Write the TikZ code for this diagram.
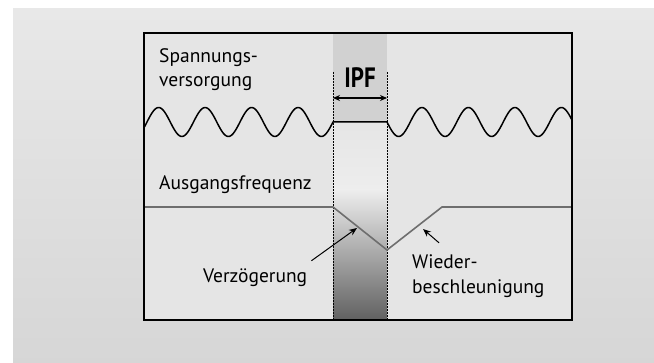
\documentclass[tikz,border=0pt]{standalone}
\usepackage{fontspec}
\setmainfont{PT Sans}
\usetikzlibrary{arrows.meta}
\definecolor{bgtop}{gray}{0.91}
\definecolor{bgbot}{gray}{0.84}
\definecolor{boxfill}{gray}{0.9}
\definecolor{colupper}{gray}{0.82}
\definecolor{collight}{gray}{0.93}
\definecolor{coldark}{gray}{0.38}
\definecolor{freqgray}{gray}{0.43}
\begin{document}
\begin{tikzpicture}[x=1pt, y=-1pt,
    lab/.style={font=\fontsize{19.5}{24.5}\selectfont, inner sep=0pt, anchor=base west, align=left},
    pfeil/.style={-{Stealth[length=8pt,width=6.5pt]}, line width=1pt},
    welle/.style={line width=1.5pt, line join=round}]
    \useasboundingbox (0,0) rectangle (654,363);
    \shade[top color=bgtop, bottom color=bgbot] (13,9) rectangle (654,363);
    \fill[boxfill] (144,33) rectangle (572,320);
    % IPF column
    \fill[colupper] (333,33) rectangle (387,122);
    \shade[top color=boxfill, bottom color=collight] (333,122) rectangle (387,190);
    \shade[top color=collight, bottom color=coldark] (333,190) rectangle (387,320);
    \foreach \x in {333, 387}{
        \draw[densely dotted, line width=0.5pt] (\x,72) -- (\x,320);
    }
    % supply voltage and output frequency
    \draw[welle] plot[domain=144:333, samples=120] (\x, {122 - 14.5*sin((\x-333)*7.742)})
        -- (387,122) -- plot[domain=387:572, samples=120] (\x, {122 + 14.5*sin((\x-387)*7.742)});
    \draw[freqgray, line width=1.6pt] (144,207) -- (333,207) -- (387,250) -- (442,207) -- (572,207);
    \draw[line width=1.3pt] (144,33) rectangle (572,320);
    % labels
    \node[lab] (spannung) at (159,86.7) {Spannungs-\\versorgung};
    \node[lab] (ausgang) at (159,190) {Ausgangsfrequenz};
    \node[lab] (verz) at (203,282.7) {Verzögerung};
    \node[lab] (wieder) at (412,293.3) {Wieder-\\beschleunigung};
    \node[font=\bfseries\fontsize{28}{28}\selectfont, inner sep=0pt, anchor=base] (ipf) at (360,88) {\scalebox{0.82}[1]{IPF}};
    \coordinate (ipfL) at (333,98);
    \coordinate (ipfR) at (387,98);
    \coordinate (knickA) at (357,228);
    \coordinate (knickB) at (423,229);
    \draw[{Stealth[length=7pt,width=6pt]}-{Stealth[length=7pt,width=6pt]}, line width=1.1pt] (ipfL) -- (ipfR);
    \draw[pfeil] ([xshift=4pt,yshift=8pt]verz.north east) -- (knickA);
    \draw[pfeil] ([xshift=27pt,yshift=12pt]wieder.north west) -- (knickB);
\end{tikzpicture}
\end{document}
